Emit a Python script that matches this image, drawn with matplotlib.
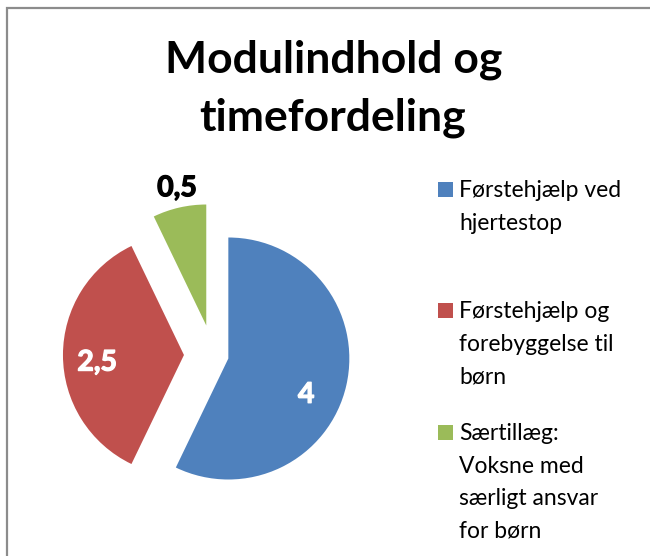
import matplotlib
matplotlib.use("Agg")
import matplotlib.pyplot as plt
from matplotlib.patches import Rectangle
import matplotlib.patheffects as pe
import numpy as np

title_lines = ["Modulindhold og", "timefordeling"]
categories = ["Førstehjælp ved\nhjertestop",
              "Førstehjælp og\nforebyggelse til\nbørn",
              "Særtillæg:\nVoksne med\nsærligt ansvar\nfor børn"]
values = [4, 2.5, 0.5]
value_labels = ["4", "2,5", "0,5"]
colors = ["#4F81BD", "#C0504D", "#9BBB59"]
label_colors = ["white", "white", "black"]

plt.rcParams['font.family'] = ['Lato', 'DejaVu Sans']

W, H = 650, 556
fig = plt.figure(figsize=(W / 100, H / 100), dpi=100)
fig.patch.set_facecolor("white")

# chart border
fig.add_artist(Rectangle((7 / W, -0.1), 1.2, (H - 8) / H + 0.1, transform=fig.transFigure,
                         fill=False, edgecolor="#8C8C8C", linewidth=1.6))

R = 121.0
cx, cy = 213.0, 355.0
ax = fig.add_axes([0, 0, 1, 1])
wedges, _ = ax.pie(values, colors=colors, startangle=90, counterclock=False,
                   explode=[0.13, 0.24, 0.25], radius=1.0,
                   wedgeprops=dict(linewidth=0))
ax.set_xlim(-cx / R, (W - cx) / R)
ax.set_ylim(-(H - cy) / R, cy / R)
ax.set_aspect("auto")
ax.axis("off")

# data labels (polar offsets from each wedge apex)
lab_pos = [(0.71, -25), (0.72, 185), (1.16, 102)]
for w, txt, col, (r, a) in zip(wedges, value_labels, label_colors, lab_pos):
    x0, y0 = w.center
    ax.text(x0 + r * np.cos(np.radians(a)), y0 + r * np.sin(np.radians(a)), txt,
            ha="center", va="center", fontsize=20.5, fontweight="bold", color=col,
            path_effects=[pe.Stroke(linewidth=0.9, foreground=col), pe.Normal()])

# title (two centred lines)
for line, xc, base in zip(title_lines, [334, 333], [73, 131]):
    fig.text(xc / W, 1 - base / H, line, ha="center", va="baseline", fontsize=32,
             fontweight="bold", color="black")

# legend
first_base = [197, 318, 440]
line_step = 32.6
for cat, col, b0 in zip(categories, colors, first_base):
    fig.add_artist(Rectangle((438 / W, 1 - b0 / H), 15 / W, 15 / H,
                             transform=fig.transFigure, facecolor=col, edgecolor="none"))
    for i, line in enumerate(cat.split("\n")):
        fig.text(459 / W, 1 - (b0 + i * line_step) / H, line, ha="left",
                 va="baseline", fontsize=16.5, color="black")

fig.savefig("out.png", dpi=100, facecolor="white")
